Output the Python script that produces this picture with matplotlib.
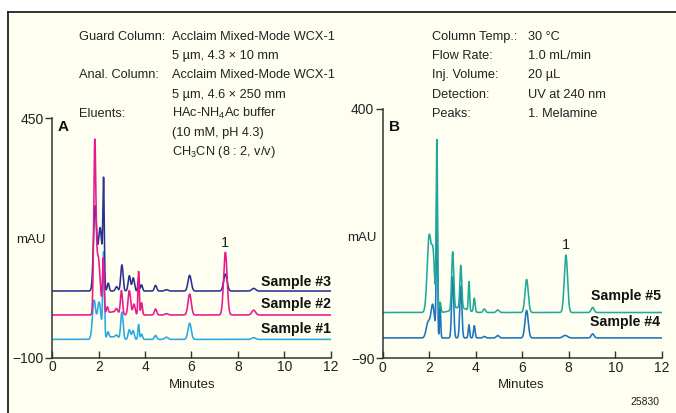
import numpy as np
import matplotlib
matplotlib.use("Agg")
import matplotlib.pyplot as plt
from matplotlib.lines import Line2D

plt.rcParams['font.family'] = ['Liberation Sans', 'DejaVu Sans']
plt.rcParams['mathtext.fontset'] = 'custom'
plt.rcParams['mathtext.rm'] = 'Liberation Sans'
plt.rcParams['axes.unicode_minus'] = True

# ---------------- data (peak tables) ----------------
# each peak: (retention time [min], height above baseline [mAU], sigma [min])
sample1_baseline = -58
sample1_peaks = [(1.80, 88, 0.07), (2.02, 85, 0.08), (2.21, 195, 0.035), (2.40, 14, 0.04),
                 (2.60, 6, 0.2), (2.77, 6, 0.05), (3.00, 62, 0.05), (3.32, 22, 0.05),
                 (3.48, 20, 0.05), (3.72, 34, 0.03), (3.85, 12, 0.04), (4.45, 9, 0.05),
                 (4.92, 5, 0.07), (5.92, 37, 0.07), (8.68, 4, 0.08)]
sample2_baseline = -2
sample2_peaks = [(1.83, 362, 0.045), (1.97, 135, 0.09), (2.20, 125, 0.035), (2.37, 15, 0.04),
                 (2.60, 7, 0.2), (2.77, 10, 0.05), (2.98, 55, 0.045), (3.32, 56, 0.055),
                 (3.52, 25, 0.05), (3.72, 100, 0.028), (3.85, 28, 0.035), (4.45, 14, 0.05),
                 (4.92, 3, 0.07), (5.92, 48, 0.07), (7.46, 144, 0.075), (8.68, 11, 0.08)]
sample3_baseline = 53
sample3_peaks = [(1.84, 190, 0.065), (2.06, 145, 0.085), (2.21, 230, 0.03), (2.41, 18, 0.04),
                 (2.77, 10, 0.05), (3.00, 60, 0.05), (3.32, 35, 0.05), (3.49, 30, 0.05),
                 (3.72, 30, 0.03), (3.85, 14, 0.04), (4.45, 13, 0.05), (4.92, 3, 0.07),
                 (5.92, 36, 0.07), (7.46, 39, 0.075), (8.68, 6, 0.08)]
sample4_baseline = -50
sample4_peaks = [(1.95, 30, 0.08), (2.15, 65, 0.08), (2.33, 275, 0.028), (2.47, 60, 0.025),
                 (3.01, 120, 0.045), (3.36, 102, 0.045), (3.71, 26, 0.03), (3.94, 24, 0.035),
                 (4.37, 3, 0.05), (4.95, 5, 0.06), (6.19, 54, 0.07), (7.85, 5, 0.1),
                 (9.03, 8, 0.06)]
sample5_baseline = 0
sample5_peaks = [(2.00, 150, 0.085), (2.17, 105, 0.065), (2.33, 335, 0.028), (2.47, 20, 0.035),
                 (3.01, 113, 0.045), (3.30, 10, 0.3), (3.36, 83, 0.04), (3.71, 57, 0.028),
                 (3.94, 27, 0.035), (4.37, 7, 0.05), (4.95, 5, 0.06), (6.19, 65, 0.07),
                 (7.88, 113, 0.07), (9.03, 10, 0.06)]

melamine_time_A = 7.46
melamine_time_B = 7.88

xticks = [0, 2, 4, 6, 8, 10, 12]
yticks_A = [-100, 450]
yticks_B = [-90, 400]

left_labels = ["Guard Column:", "", "Anal. Column:", "", "Eluents:", "", ""]
left_values = ["Acclaim Mixed-Mode WCX-1", "5 µm, 4.3 × 10 mm",
               "Acclaim Mixed-Mode WCX-1", "5 µm, 4.6 × 250 mm",
               "HAc-NH$_4$Ac buffer", "(10 mM, pH 4.3)", "CH$_3$CN (8 : 2, v/v)"]
right_labels = ["Column Temp.:", "Flow Rate:", "Inj. Volume:", "Detection:", "Peaks:"]
right_values = ["30 °C", "1.0 mL/min", "20 µL", "UV at 240 nm", "1. Melamine"]

# ---------------- helpers ----------------
W, H = 676, 413
BG = '#FEFEF1'
TXT = '#222222'

def px(x, y):
    return x / W, 1 - y / H

def trace(t, baseline, peaks):
    y = np.full_like(t, float(baseline))
    for rt, h, s in peaks:
        y += h * np.exp(-0.5 * ((t - rt) / s) ** 2)
    return y

fig = plt.figure(figsize=(W / 100, H / 100), dpi=100)
fig.patch.set_facecolor('white')
bg = plt.Rectangle(px(8, 413), 1, (413 - 12) / H, transform=fig.transFigure,
                   facecolor=BG, edgecolor='none', zorder=-10)
fig.add_artist(bg)
fig.add_artist(Line2D([8 / W, 1], [1 - 12 / H] * 2, transform=fig.transFigure, color='#222222', lw=1.3))
fig.add_artist(Line2D([8 / W] * 2, [0, 1 - 12 / H], transform=fig.transFigure, color='#222222', lw=1.3))

t = np.linspace(0, 12, 4000)

def setup(ax, yticks):
    ax.set_facecolor('none')
    for s in ['top', 'right']:
        ax.spines[s].set_visible(False)
    for s in ['left', 'bottom']:
        ax.spines[s].set_linewidth(1.1)
        ax.spines[s].set_color('#333333')
    ax.set_xlim(0, 12)
    ax.set_ylim(yticks[0], yticks[1])
    ax.set_xticks(xticks)
    ax.set_yticks(yticks)
    ax.tick_params(axis='x', direction='in', length=5, width=1.0, labelsize=10, pad=2, colors='#333333')
    ax.tick_params(axis='y', direction='out', length=5, width=1.0, labelsize=10, pad=1, colors='#333333')
    for lab in ax.get_xticklabels() + ax.get_yticklabels():
        lab.set_color(TXT)

LW = 1.15
SFS = 10.2

# Panel A
axA = fig.add_axes([52.3 / W, 1 - 357.7 / H, (330.7 - 52.3) / W, (357.7 - 118) / H])
setup(axA, yticks_A)
axA.plot(t, trace(t, sample1_baseline, sample1_peaks), color='#29A9E1', lw=LW)
axA.plot(t, trace(t, sample3_baseline, sample3_peaks), color='#2E3192', lw=LW)
axA.plot(t, trace(t, sample2_baseline, sample2_peaks), color='#E8198B', lw=LW)
axA.text(12, 74, "Sample #3", ha='right', va='center', fontsize=SFS, fontweight='bold', color='#111111')
axA.text(12, 23, "Sample #2", ha='right', va='center', fontsize=SFS, fontweight='bold', color='#111111')
axA.text(12, -34, "Sample #1", ha='right', va='center', fontsize=SFS, fontweight='bold', color='#111111')
axA.text(melamine_time_A, 164, "1", ha='center', va='center', fontsize=10.5, color=TXT)

# Panel B
axB = fig.add_axes([382.7 / W, 1 - 358.3 / H, (661.7 - 382.7) / W, (358.3 - 109) / H])
setup(axB, yticks_B)
axB.plot(t, trace(t, sample4_baseline, sample4_peaks), color='#1B75BB', lw=LW)
axB.plot(t, trace(t, sample5_baseline, sample5_peaks), color='#20A99A', lw=LW)
axB.text(11.95, 32, "Sample #5", ha='right', va='center', fontsize=SFS, fontweight='bold', color='#111111')
axB.text(11.95, -18, "Sample #4", ha='right', va='center', fontsize=SFS, fontweight='bold', color='#111111')
axB.text(melamine_time_B, 133, "1", ha='center', va='center', fontsize=10.5, color=TXT)

# panel letters, axis labels
fig.text(*px(63, 127), "A", ha='center', va='center', fontsize=11, fontweight='bold', color='#111111')
fig.text(*px(395, 127), "B", ha='center', va='center', fontsize=11, fontweight='bold', color='#111111')
fig.text(*px(31, 240), "mAU", ha='center', va='center', fontsize=9.5, color=TXT)
fig.text(*px(362, 238), "mAU", ha='center', va='center', fontsize=9.5, color=TXT)
fig.text(*px(192, 385), "Minutes", ha='center', va='center', fontsize=9.5, color=TXT)
fig.text(*px(521, 385), "Minutes", ha='center', va='center', fontsize=9.5, color=TXT)
fig.text(*px(659, 402), "25830", ha='right', va='center', fontsize=7.5, color=TXT)

# condition text
IFS = 9.2
y0, dy = 37, 19.2
for i, (lab, val) in enumerate(zip(left_labels, left_values)):
    y = y0 + i * dy
    if lab:
        fig.text(*px(79, y), lab, ha='left', va='center', fontsize=IFS, color=TXT)
    fig.text(*px(172, y), val, ha='left', va='center', fontsize=IFS, color=TXT)
for i, (lab, val) in enumerate(zip(right_labels, right_values)):
    y = y0 + i * dy
    fig.text(*px(432, y), lab, ha='left', va='center', fontsize=IFS, color=TXT)
    fig.text(*px(528, y), val, ha='left', va='center', fontsize=IFS, color=TXT)

fig.savefig("out.png", dpi=100, facecolor='white')
